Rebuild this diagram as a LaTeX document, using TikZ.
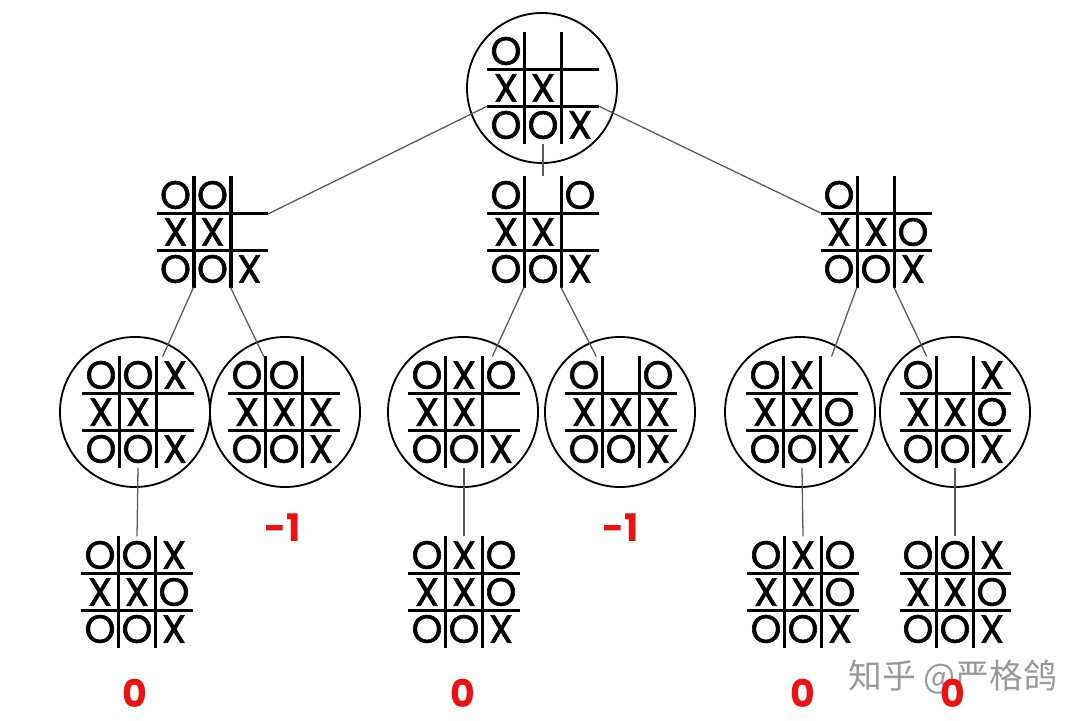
\documentclass[tikz,border=0pt]{standalone}
\usepackage{fontspec}
\setmainfont{Poppins}
\newfontfamily\piecefont[FakeBold=1.4]{Poppins}
\newfontfamily\cjkfont{Noto Sans CJK SC}
\usetikzlibrary{calc}

\definecolor{valred}{RGB}{236,18,18}

\tikzset{
  boardbox/.style={minimum width=2.775cm,minimum height=2.775cm,inner sep=0pt,outer sep=0pt},
  bubble/.style={circle,draw,line width=1.3pt,minimum size=3.75cm,inner sep=0pt},
  gridline/.style={line width=2.3pt},
  piece/.style={font=\piecefont\fontsize{28}{28}\selectfont,inner sep=0pt},
  edgeline/.style={draw=black!65,line width=0.9pt},
  value/.style={font=\bfseries\fontsize{27}{27}\selectfont,text=valred,inner sep=0pt},
  watermark/.style={font=\cjkfont\fontsize{24}{24}\selectfont,text=black!40,inner sep=0pt}
}

% #1 name, #2 x, #3 y, #4 the nine cells
\newcommand{\tttboard}[4]{%
  \node[boardbox] (#1) at (#2,#3) {};
  \draw[gridline] ($(#1.north west)!1/3!(#1.south west)$) -- ($(#1.north east)!1/3!(#1.south east)$);
  \draw[gridline] ($(#1.north west)!2/3!(#1.south west)$) -- ($(#1.north east)!2/3!(#1.south east)$);
  \draw[gridline] ($(#1.north west)!1/3!(#1.north east)$) -- ($(#1.south west)!1/3!(#1.south east)$);
  \draw[gridline] ($(#1.north west)!2/3!(#1.north east)$) -- ($(#1.south west)!2/3!(#1.south east)$);
  \foreach \m [count=\i from 0] in {#4} {
    \pgfmathtruncatemacro{\bc}{mod(\i,3)}
    \pgfmathtruncatemacro{\br}{div(\i,3)}
    \node[piece] at ($(#1)+(\bc*37-37,\br*37-37)$) {\m};
  }
}

\begin{document}
\begin{tikzpicture}[x=0.025cm,y=-0.025cm]
\useasboundingbox (0,0) rectangle (1082,721);

\node[bubble] (rootc) at (542,88) {};
\tttboard{root}{543}{88}{O,{},{},X,X,{},O,O,X}

\tttboard{b1}{212.5}{232}{O,O,{},X,X,{},O,O,X}
\tttboard{b2}{543}{232}{O,{},O,X,X,{},O,O,X}
\tttboard{b3}{876}{232}{O,{},{},X,X,O,O,O,X}

\node[bubble] (c1) at (135,412) {};
\node[bubble] (c2) at (285,412) {};
\node[bubble] (c3) at (463,412) {};
\node[bubble] (c4) at (620,412) {};
\node[bubble] (c5) at (800,412) {};
\node[bubble] (c6) at (955,412) {};
\tttboard{g1}{138}{412}{O,O,X,X,X,{},O,O,X}
\tttboard{g2}{284}{412}{O,O,{},X,X,X,O,O,X}
\tttboard{g3}{464}{412}{O,X,O,X,X,{},O,O,X}
\tttboard{g4}{621}{412}{O,{},O,X,X,X,O,O,X}
\tttboard{g5}{802}{412}{O,X,{},X,X,O,O,O,X}
\tttboard{g6}{955}{412}{O,{},X,X,X,O,O,O,X}

\tttboard{d1}{137}{592}{O,O,X,X,X,O,O,O,X}
\tttboard{d2}{464}{592}{O,X,O,X,X,O,O,O,X}
\tttboard{d3}{803}{592}{O,X,O,X,X,O,O,O,X}
\tttboard{d4}{955}{592}{O,O,X,X,X,O,O,O,X}

  \draw[edgeline] (root.198.4) -- (b1.18.4);
  \draw[edgeline] (root.south) -- (b2.north);
  \draw[edgeline] (root.-18.4) -- (b3.161.6);

  \draw[edgeline] (b1.251.6) -- (g1.66);
  \draw[edgeline] (b1.288.4) -- (g2.110);
  \draw[edgeline] (b2.251.6) -- (g3.63);
  \draw[edgeline] (b2.288.4) -- (g4.114);
  \draw[edgeline] (b3.251.6) -- (g5.62);
  \draw[edgeline] (b3.288.4) -- (g6.117);

  \draw[edgeline] (g1.south) -- (d1.north);
  \draw[edgeline] (g3.south) -- (d2.north);
  \draw[edgeline] (g5.south) -- (d3.north);
  \draw[edgeline] (g6.south) -- (d4.north);

\node[watermark] (wm) at (953,677) {知乎 @严格鸽};

\node[value] (v1) at (135,693) {0};
\node[value] (v2) at (283,528) {-1};
\node[value] (v3) at (463,693) {0};
\node[value] (v4) at (621,528) {-1};
\node[value] (v5) at (803,693) {0};
\node[value] (v6) at (953,693) {0};
\end{tikzpicture}
\end{document}
